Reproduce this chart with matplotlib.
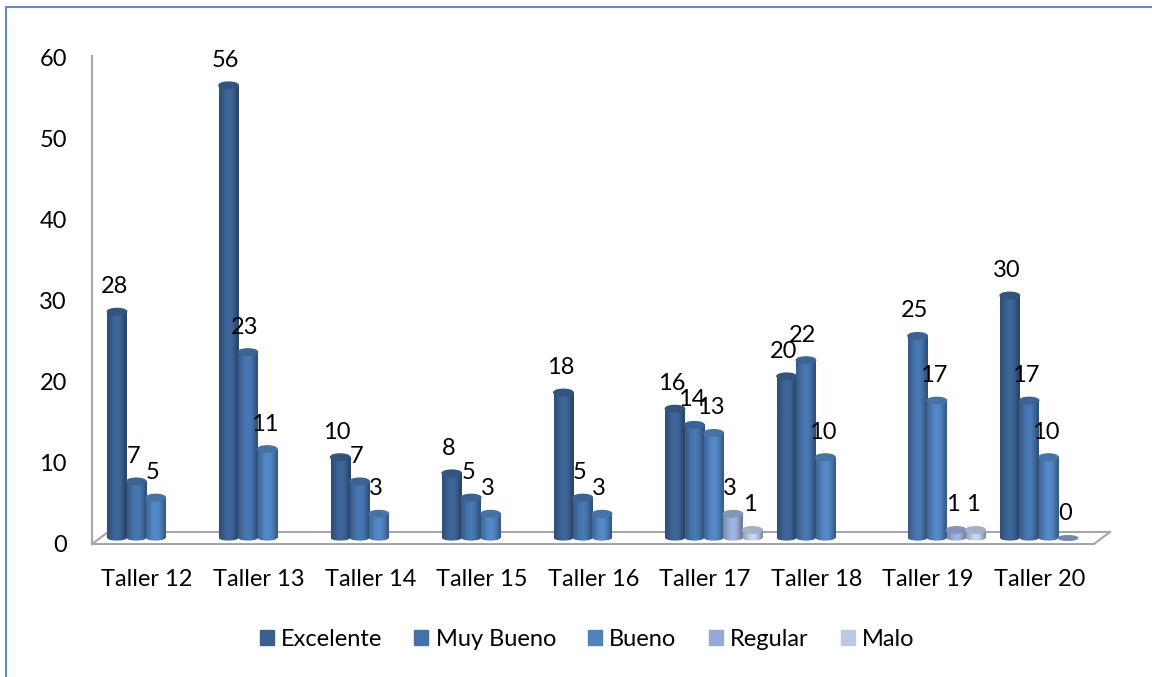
import matplotlib
matplotlib.use('Agg')
import matplotlib.pyplot as plt
import numpy as np
from matplotlib.patches import Ellipse, Rectangle
from matplotlib.lines import Line2D
from matplotlib.transforms import ScaledTranslation

plt.rcParams['font.family'] = ['Lato', 'DejaVu Sans']

talleres = ['Taller 12', 'Taller 13', 'Taller 14', 'Taller 15', 'Taller 16',
            'Taller 17', 'Taller 18', 'Taller 19', 'Taller 20']
series = ['Excelente', 'Muy Bueno', 'Bueno', 'Regular', 'Malo']
excelente = [28, 56, 10, 8, 18, 16, 20, None, 30]
muy_bueno = [7, 23, 7, 5, 5, 14, 22, 25, 17]
bueno = [5, 11, 3, 3, 3, 13, 10, 17, 10]
regular = [None, None, None, None, None, 3, None, 1, 0]
malo = [None, None, None, None, None, 1, None, 1, None]
colores = ['#3a6090', '#4471a8', '#4f81bd', '#95abd3', '#bcc9e2']
yticks = [0, 10, 20, 30, 40, 50, 60]

W, H = 1152, 677
fig = plt.figure(figsize=(W / 100, H / 100), dpi=100)

# pixel box of the plot: y=0 at 538, y=60 at 53, 111.6px per category
ax_l, ax_r, ax_t, ax_b = 92, 1094, 53, 538
ax = fig.add_axes([ax_l / W, 1 - ax_b / H, (ax_r - ax_l) / W, (ax_b - ax_t) / H])
ax.set_zorder(5)
px_x = 111.6
px_y = (ax_b - ax_t) / 60


def fig_line(xs, ys, color='#a6a6a6', lw=1.5, z=1):
    fig.add_artist(Line2D([x / W for x in xs], [1 - y / H for y in ys],
                          color=color, lw=lw, zorder=z))


# chart border and 3d floor / wall
fig.add_artist(Rectangle((6 / W, -0.02), 1.1, 1 - 7 / H + 0.02, fill=False,
                         ec='#5f8cc6', lw=1.5, transform=fig.transFigure))
fig_line([92, 92], [56, 544])
fig_line([92, 1094], [544, 544])
fig_line([92, 108], [544, 532])
fig_line([108, 1110], [532, 532])
fig_line([1094, 1110], [544, 532])

ancho = 19.4 / px_x
alto = 6.5 / px_y
perfil = np.array([0.82, 0.95, 1.04, 1.08, 1.04, 0.92, 0.70])
z = 3
for s, vals in enumerate([excelente, muy_bueno, bueno, regular, malo]):
    base = np.array(matplotlib.colors.to_rgb(colores[s]))
    grad = np.clip(perfil[None, :, None] * base[None, None, :], 0, 1)
    for i, v in enumerate(vals):
        if v is None:
            continue
        x = i - 30 / px_x + s * 19.35 / px_x
        izq, der = x - ancho / 2, x + ancho / 2
        if v > 0:
            ax.imshow(grad, extent=(izq, der, 0, v), aspect='auto',
                      interpolation='bicubic', zorder=z, clip_on=False)
            # rounded foot, same shading as the body
            pie = Ellipse((x, 0), ancho, alto * 0.8, fc='none', ec='none', zorder=z)
            ax.add_patch(pie)
            im = ax.imshow(grad, extent=(izq, der, -alto, alto), aspect='auto',
                           interpolation='bicubic', zorder=z)
            im.set_clip_box(fig.bbox)
            im.set_clip_path(pie)
            ax.add_patch(Ellipse((x, v), ancho, alto, color=base * 0.88, zorder=z + 0.5, clip_on=False))
        else:
            ax.add_patch(Ellipse((x, v), ancho, alto * 0.7, color='#7189b0', zorder=z, clip_on=False))
        ax.annotate(str(v), (x, v), xytext=(-3, 25), textcoords='offset pixels',
                    ha='center', va='center', fontsize=17, color='black',
                    zorder=50, annotation_clip=False)
        z += 1

ax.set_xlim((ax_l - 147) / px_x, (ax_r - 147) / px_x)
ax.set_ylim(0, 60)
ax.patch.set_alpha(0)
for sp in ax.spines.values():
    sp.set_visible(False)
ax.set_xticks(range(len(talleres)))
ax.set_xticklabels(talleres, fontsize=17)
ax.set_yticks(yticks)
ax.set_yticklabels([str(t) for t in yticks], fontsize=17, va='center')
ax.tick_params(length=0)
ax.tick_params(axis='x', pad=22.5)
ax.tick_params(axis='y', pad=18)
bajar = ScaledTranslation(0, -0.07, fig.dpi_scale_trans)
for lab in ax.get_yticklabels():
    lab.set_transform(lab.get_transform() + bajar)

handles = [Rectangle((0, 0), 1, 1, color=c) for c in colores]
fig.legend(handles, series, ncol=5, loc='center', bbox_to_anchor=(587 / W, 1 - 639 / H),
           frameon=False, fontsize=17, handlelength=0.6, handleheight=0.6,
           handletextpad=0.3, columnspacing=1.36)

fig.savefig('out.png', dpi=100)
